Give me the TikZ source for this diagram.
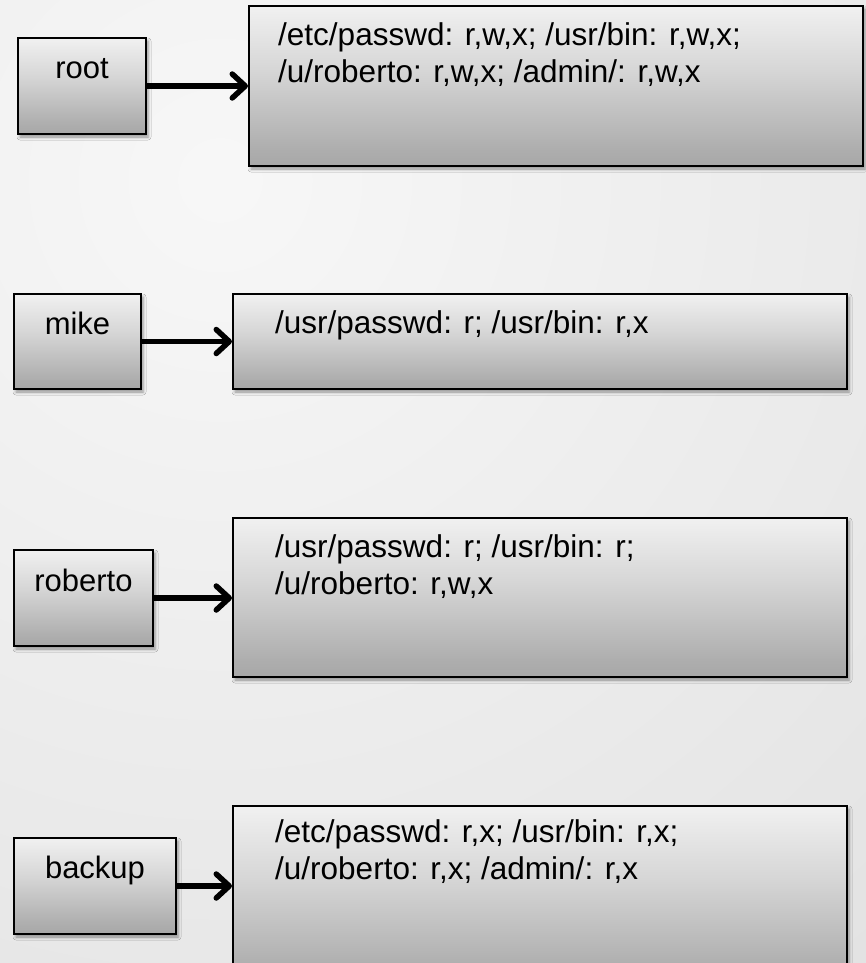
\documentclass[tikz,border=0pt]{standalone}
\usepackage{fontspec}
\setmainfont{Liberation Sans}
\usetikzlibrary{arrows.meta,shadows.blur,calc}
\pgfdeclareverticalshading{boxshade}{100bp}{color(0bp)=(black!46); color(30bp)=(black!32); color(55bp)=(black!16); color(80bp)=(black!3); color(100bp)=(white)}
\begin{document}
\begin{tikzpicture}[x=1pt,y=-1pt,
  box/.style={draw=black, line width=2pt, shade, shading=boxshade, inner sep=0pt, anchor=north west,
    blur shadow={shadow xshift=2pt, shadow yshift=-3pt, shadow blur radius=3pt, shadow opacity=40}},
  usr/.style={box, font=\fontsize{31}{36}\selectfont, text=black, text depth=55pt},
  perm/.style={box},
  txt/.style={inner sep=0pt, anchor=base west, text=black},
  arr/.style={line width=5.5pt, -{Straight Barb[length=13pt,width=24pt,round]}}
]
\useasboundingbox (0,0) rectangle (866,963);
\begin{scope}
  \clip (0,0) rectangle (866,963);
  \shade[inner color=black!3, outer color=black!16] (220,180) circle (1650pt);
\end{scope}

% user boxes
\node[usr, minimum width=128pt, text height=41pt] (root) at (17,37) {root};
\node[usr, minimum width=127pt, text height=40pt] (mike) at (13,293) {mike};
\node[usr, minimum width=139pt, text height=41pt] (roberto) at (13,549) {roberto};
\node[usr, minimum width=162pt, text height=40pt, text depth=56pt] (backup) at (13,837) {backup};

% permission boxes
\node[perm, minimum width=614pt, minimum height=160pt] (rootp) at (248,5) {};
\node[perm, minimum width=614pt, minimum height=95pt] (mikep) at (232,293) {};
\node[perm, minimum width=614pt, minimum height=159pt] (robp) at (232,517) {};
\node[perm, minimum width=614pt, minimum height=180pt] (backp) at (232,805) {};

% permission texts
\node[txt] (rootpt) at ($(rootp.north west)+(30,41)$)
  {\parbox[t]{580pt}{\fontsize{31.5}{37}\selectfont /etc/passwd: r,w,x; /usr/bin: r,w,x;\\/u/roberto: r,w,x; /admin/: r,w,x}};
\node[txt] (mikept) at ($(mikep.north west)+(43,40)$)
  {\parbox[t]{560pt}{\fontsize{31.5}{37}\selectfont /usr/passwd: r; /usr/bin: r,x}};
\node[txt] (robpt) at ($(robp.north west)+(43,40)$)
  {\parbox[t]{560pt}{\fontsize{31.5}{37}\selectfont /usr/passwd: r; /usr/bin: r;\\/u/roberto: r,w,x}};
\node[txt] (backpt) at ($(backp.north west)+(43,37)$)
  {\parbox[t]{560pt}{\fontsize{31.5}{37}\selectfont /etc/passwd: r,x; /usr/bin: r,x;\\/u/roberto: r,x; /admin/: r,x}};

% arrows
\draw[arr] (root.east) -- (root.east -| rootp.west);
\draw[arr] (mike.east) -- (mike.east -| mikep.west);
\draw[arr] (roberto.east) -- (roberto.east -| robp.west);
\draw[arr] (backup.east) -- (backup.east -| backp.west);
\end{tikzpicture}
\end{document}
